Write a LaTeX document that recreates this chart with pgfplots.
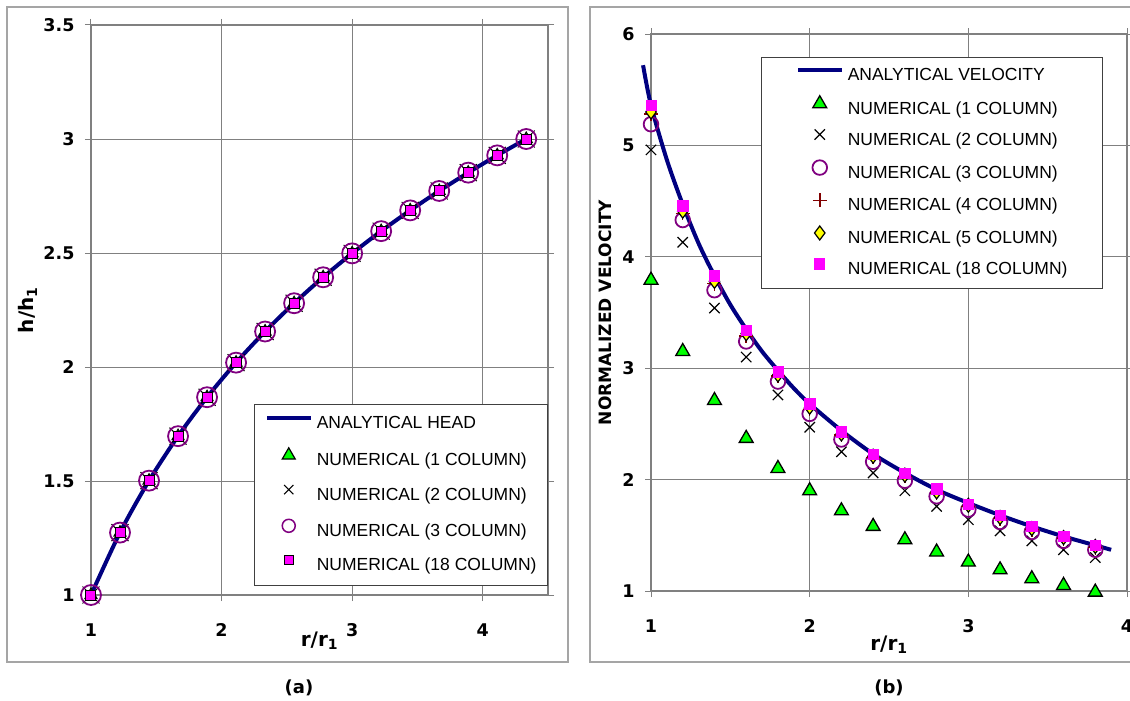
\documentclass[border=0pt]{standalone}
\usepackage{pgfplots}
\usepackage{pgfplotstable}
\pgfplotsset{compat=1.18}
\usepackage{fontspec}
\setmainfont{Liberation Sans}
\newfontfamily\dvb{DejaVu Sans}
\definecolor{navyline}{RGB}{0,0,128}
\definecolor{mgreen}{RGB}{0,255,0}
\definecolor{mpurple}{RGB}{128,0,128}
\definecolor{mred}{RGB}{128,0,0}
\definecolor{myellow}{RGB}{255,255,0}
\definecolor{mmagenta}{RGB}{255,0,255}
\definecolor{gridgray}{RGB}{128,128,128}
\definecolor{framegray}{RGB}{165,165,165}

\pgfplotstableread{
r h
1.0000 1.0000
1.2222 1.2737
1.4444 1.5015
1.6667 1.6967
1.8889 1.8675
2.1111 2.0191
2.3333 2.1557
2.5556 2.2797
2.7778 2.3935
3.0000 2.4984
3.2222 2.5959
3.4444 2.6869
3.6667 2.7721
3.8889 2.8524
4.1111 2.9282
4.3333 3.0000
}\headdata

\pgfplotstableread{
r v
0.95 5.72
1.00 5.36
1.10 4.87
1.20 4.47
1.30 4.12
1.40 3.83
1.50 3.57
1.60 3.35
1.70 3.15
1.80 2.98
1.90 2.82
2.00 2.68
2.20 2.44
2.40 2.23
2.60 2.06
2.80 1.91
3.00 1.79
3.20 1.68
3.40 1.58
3.60 1.49
3.80 1.41
3.90 1.37
}\velan

\pgfplotstableread{
r n1 n2 n3 n4 n5 n18
1.0 3.79 4.96 5.19 5.28 5.30 5.36
1.2 3.15 4.13 4.33 4.39 4.41 4.46
1.4 2.71 3.54 3.70 3.76 3.78 3.83
1.6 2.37 3.10 3.24 3.29 3.31 3.34
1.8 2.10 2.76 2.88 2.93 2.94 2.97
2.0 1.90 2.47 2.59 2.63 2.65 2.68
2.2 1.72 2.25 2.36 2.40 2.41 2.43
2.4 1.58 2.06 2.16 2.20 2.21 2.23
2.6 1.46 1.90 1.99 2.03 2.04 2.06
2.8 1.35 1.76 1.85 1.88 1.89 1.92
3.0 1.26 1.64 1.73 1.76 1.77 1.78
3.2 1.19 1.54 1.62 1.65 1.66 1.68
3.4 1.11 1.45 1.53 1.55 1.56 1.58
3.6 1.05 1.37 1.45 1.47 1.48 1.49
3.8 0.99 1.30 1.37 1.39 1.40 1.41
}\velnum

\pgfplotsset{
  common/.style={
    scale only axis,
    clip=false,
    grid=major,
    major grid style={gridgray, line width=1pt},
    axis line style={gridgray, line width=1.2pt},
    tick align=outside,
    major tick length=6pt,
    tick style={gridgray, line width=1pt},
    /pgf/number format/assume math mode=true,
    ticklabel style={font=\fontsize{17.5}{17.5}\selectfont\dvb\bfseries},
    yticklabel style={xshift=-7pt},
    xticklabel style={yshift=-19pt},
    label style={font=\fontsize{20}{20}\selectfont\dvb\bfseries},
    legend cell align=left,
    legend image code/.code={\draw[mark repeat=2,mark phase=2,##1] plot coordinates {(0pt,6pt) (21.5pt,6pt) (43pt,6pt)};},
  },
  legbase/.style={
    legend style={font=\fontsize{17.5}{17.5}\selectfont, draw=black!75, line width=1pt,
      nodes={inner sep=0pt, text height=13pt, text depth=4pt, line width=0.6pt},
      column sep=4.5pt},
  },
}

\begin{document}
\begin{tikzpicture}
% ---------- (a) ----------
\begin{axis}[common, legbase,
  at={(91pt,-595pt)}, anchor=south west,
  width=457pt, height=570pt,
  xmin=1, xmax=4.5, ymin=1, ymax=3.5,
  xtick={1,2,3,4}, ytick={1,1.5,2,2.5,3,3.5},
  xlabel={r/r\textsubscript{1}}, ylabel={h/h\textsubscript{1}},
  xlabel style={at={(axis description cs:0.5,-0.08)}, anchor=center},
  ylabel style={at={(axis description cs:-0.138,0.5)}, anchor=center},
  legend style={at={(1,0.0158)}, anchor=south east, inner xsep=11pt, inner ysep=11pt, row sep=15.2pt},
]
\addplot[navyline, line width=4pt, smooth, no marks] table[x=r,y=h] {\headdata};
\addlegendentry{ANALYTICAL HEAD}
\addplot[only marks, mark=triangle*, mark size=7pt, mark options={fill=mgreen, draw=black, line width=1pt}, forget plot] table[x=r,y=h] {\headdata};
\addplot[only marks, mark=x, mark size=12pt, mark options={draw=black, line width=1pt}, forget plot] table[x=r,y=h] {\headdata};
\addplot[only marks, mark=o, mark size=10pt, mark options={draw=mpurple, line width=1.8pt}, forget plot] table[x=r,y=h] {\headdata};
\addplot[only marks, mark=square*, mark size=5pt, mark options={fill=mmagenta, draw=black, line width=1pt}, forget plot] table[x=r,y=h] {\headdata};
\addlegendimage{only marks, mark=triangle*, mark size=7.5pt, mark options={fill=mgreen, draw=black, line width=1.2pt}}
\addlegendentry{NUMERICAL (1 COLUMN)}
\addlegendimage{only marks, mark=x, mark size=6.5pt, mark options={draw=black, line width=1.2pt}}
\addlegendentry{NUMERICAL (2 COLUMN)}
\addlegendimage{only marks, mark=o, mark size=6.5pt, mark options={draw=mpurple, line width=1.5pt}}
\addlegendentry{NUMERICAL (3 COLUMN)}
\addlegendimage{only marks, mark=square*, mark size=4.5pt, mark options={fill=mmagenta, draw=black, line width=1pt}}
\addlegendentry{NUMERICAL (18 COLUMN)}
\end{axis}

% ---------- (b) ----------
\begin{axis}[common, legbase,
  at={(651pt,-591pt)}, anchor=south west,
  width=476pt, height=557pt,
  xmin=1, xmax=4, ymin=1, ymax=6,
  xtick={1,2,3,4}, ytick={1,2,3,4,5,6},
  xlabel={r/r\textsubscript{1}}, ylabel={NORMALIZED VELOCITY},
  xlabel style={at={(axis description cs:0.5,-0.096)}, anchor=center},
  ylabel style={at={(axis description cs:-0.0966,0.5)}, anchor=center, font=\fontsize{17}{17}\selectfont\dvb\bfseries},
  legend style={at={(0.9496,0.9587)}, anchor=north east, inner xsep=35pt, inner ysep=10pt, row sep=11.2pt},
]
\addplot[navyline, line width=4pt, smooth, no marks] table[x=r,y=v] {\velan};
\addlegendentry{ANALYTICAL VELOCITY}
\addplot[only marks, mark=triangle*, mark size=8pt, mark options={fill=mgreen, draw=black, line width=1.3pt}] table[x=r,y=n1] {\velnum};
\addlegendentry{NUMERICAL (1 COLUMN)}
\addplot[only marks, mark=x, mark size=7.3pt, mark options={draw=black, line width=1.2pt}] table[x=r,y=n2] {\velnum};
\addlegendentry{NUMERICAL (2 COLUMN)}
\addplot[only marks, mark=o, mark size=7.3pt, mark options={draw=mpurple, line width=1.8pt}] table[x=r,y=n3] {\velnum};
\addlegendentry{NUMERICAL (3 COLUMN)}
\addplot[only marks, mark=+, mark size=7pt, mark options={draw=mred, line width=1.5pt}] table[x=r,y=n4] {\velnum};
\addlegendentry{NUMERICAL (4 COLUMN)}
\addplot[only marks, mark=diamond*, mark size=7pt, mark options={fill=myellow, draw=black, line width=1.2pt}] table[x=r,y=n5] {\velnum};
\addlegendentry{NUMERICAL (5 COLUMN)}
\addplot[only marks, mark=square*, mark size=5.2pt, mark options={fill=mmagenta, draw=mmagenta}] table[x=r,y=n18] {\velnum};
\addlegendentry{NUMERICAL (18 COLUMN)}
\end{axis}

% frames and panel labels
\draw[framegray, line width=1.5pt] (7pt,-7pt) rectangle (568pt,-662pt);
\draw[framegray, line width=1.5pt] (1145pt,-7pt) -- (590pt,-7pt) -- (590pt,-662pt) -- (1145pt,-662pt);
\node[font=\fontsize{18}{18}\selectfont\dvb\bfseries] at (299pt,-688pt) {(a)};
\node[font=\fontsize{18}{18}\selectfont\dvb\bfseries] at (889pt,-688pt) {(b)};

\pgfresetboundingbox
\path[use as bounding box] (0pt,0pt) rectangle (1130pt,-701pt);
\end{tikzpicture}
\end{document}
